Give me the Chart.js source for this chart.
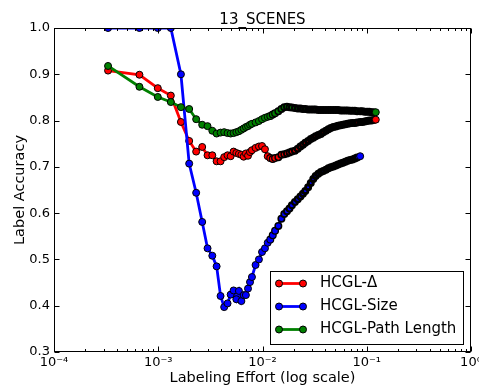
<!DOCTYPE html>
<html>
<head>
<meta charset="utf-8">
<script src="https://cdn.jsdelivr.net/npm/chart.js@4.4.1/dist/chart.umd.min.js"></script>
<style>
  html, body { margin: 0; padding: 0; background: #fff; }
</style>
</head>
<body>
<canvas id="accChart" width="479" height="389"></canvas>
<script>
// labeling effort (fraction of labeled items), shared by all three runs
const effort = [
  0.00033, 0.00066, 0.00099, 0.00132, 0.00165, 0.00198, 0.00231, 0.00264, 0.00297, 0.0033,
  0.00363, 0.00396, 0.00429, 0.00462, 0.00495, 0.00528, 0.00561, 0.00594, 0.00627, 0.0066,
  0.00693, 0.00726, 0.00759, 0.00792, 0.00858, 0.00924, 0.0099, 0.01056, 0.01122, 0.01188,
  0.01254, 0.0132, 0.01419, 0.01518, 0.01617, 0.01716, 0.01815, 0.01914, 0.02046, 0.02178,
  0.0231, 0.02442, 0.02574, 0.02739, 0.02904, 0.03069, 0.03234, 0.03432, 0.0363, 0.03828,
  0.04059, 0.0429, 0.04521, 0.04785, 0.05049, 0.05313, 0.0561, 0.05907, 0.06237, 0.06567,
  0.0693, 0.07293, 0.07689, 0.08085, 0.08646, 0.09075, 0.0957, 0.10065, 0.1056, 0.11088,
  0.11649, 0.1221
];

const deltaAcc = [
  0.908, 0.899, 0.870, 0.854, 0.797, 0.756, 0.733, 0.743, 0.725, 0.725,
  0.712, 0.712, 0.721, 0.725, 0.723, 0.733, 0.730, 0.728, 0.726, 0.722,
  0.729, 0.724, 0.732, 0.736, 0.741, 0.744, 0.745, 0.738, 0.723, 0.719,
  0.717, 0.719, 0.721, 0.726, 0.727, 0.729, 0.731, 0.733, 0.735, 0.739,
  0.744, 0.748, 0.752, 0.756, 0.760, 0.763, 0.766, 0.769, 0.771, 0.775,
  0.778, 0.781, 0.784, 0.786, 0.787, 0.789, 0.790, 0.791, 0.792, 0.793,
  0.794, 0.795, 0.795, 0.796, 0.797, 0.797, 0.798, 0.799, 0.800, 0.800,
  0.801, 0.802
];

// the size run stops earlier (last point near 0.086)
const sizeAcc = [
  1.0, 1.0, 1.0, 1.0, 0.900, 0.707, 0.644, 0.581, 0.524, 0.508,
  0.485, 0.421, 0.397, 0.405, 0.424, 0.433, 0.414, 0.432, 0.410, 0.423,
  0.423, 0.437, 0.451, 0.462, 0.488, 0.500, 0.516, 0.524, 0.536, 0.543,
  0.552, 0.562, 0.572, 0.588, 0.598, 0.604, 0.610, 0.617, 0.624, 0.630,
  0.636, 0.642, 0.648, 0.656, 0.665, 0.674, 0.680, 0.685, 0.689, 0.691,
  0.694, 0.697, 0.699, 0.701, 0.703, 0.705, 0.707, 0.709, 0.711, 0.713,
  0.715, 0.716, 0.718, 0.720, 0.723
];

const pathAcc = [
  0.918, 0.873, 0.851, 0.840, 0.829, 0.825, 0.803, 0.791, 0.788, 0.778,
  0.772, 0.774, 0.775, 0.773, 0.772, 0.773, 0.775, 0.777, 0.780, 0.783,
  0.786, 0.788, 0.791, 0.793, 0.796, 0.799, 0.803, 0.806, 0.808, 0.810,
  0.813, 0.816, 0.820, 0.825, 0.829, 0.830, 0.829, 0.828, 0.827, 0.826,
  0.826, 0.825, 0.825, 0.824, 0.824, 0.824, 0.824, 0.823, 0.823, 0.823,
  0.823, 0.823, 0.823, 0.823, 0.823, 0.823, 0.822, 0.822, 0.822, 0.822,
  0.821, 0.821, 0.821, 0.820, 0.820, 0.820, 0.819, 0.819, 0.819, 0.818,
  0.818, 0.818
];

const seriesNames = ["HCGL-\u0394", "HCGL-Size", "HCGL-Path Length"];
const xTicks = [1e-4, 1e-3, 1e-2, 1e-1, 1];
const xTickLabels = ["10\u207B\u2074", "10\u207B\u00B3", "10\u207B\u00B2", "10\u207B\u00B9", "10\u2070"];
const yTicks = [0.3, 0.4, 0.5, 0.6, 0.7, 0.8, 0.9, 1.0];

const FONT = "'DejaVu Sans', sans-serif";

// the original run has hundreds of overlapping markers past ~1e-2, so the
// black marker edges take over there; thicker edges give the same dark band
function crowding(i, n) {
  if (i === n - 1) return 0;
  const lx = Math.log10(effort[i]);
  return Math.min(1, Math.max(0, (lx + 1.95) / 0.4));
}

function series(label, ys, color, order) {
  const n = ys.length;
  return {
    label: label,
    data: ys.map((y, i) => ({ x: effort[i], y: y })),
    borderColor: color,
    backgroundColor: color,
    borderWidth: 2.8,
    pointRadius: ys.map((y, i) => 3.5 - 1.0 * crowding(i, n)),
    pointBorderWidth: ys.map((y, i) => 1 + 2.0 * crowding(i, n)),
    pointBorderColor: "#000",
    pointBackgroundColor: color,
    tension: 0,
    clip: 0,
    order: order
  };
}

// ===== frame, inward ticks, title and legend (matplotlib look) =====
const axesDecor = {
  id: "axesDecor",
  afterDatasetsDraw(chart) {
    const { ctx, chartArea: a, scales } = chart;
    const L = a.left + 0.5, R = a.right - 0.5, T = a.top + 0.5, B = a.bottom - 0.5;
    ctx.save();
    ctx.strokeStyle = "#000";
    ctx.lineWidth = 1;

    // x ticks, majors and log minors, on bottom and top
    ctx.beginPath();
    for (let e = -4; e <= 0; e++) {
      for (let m = 1; m <= 9; m++) {
        const v = m * Math.pow(10, e);
        if (v > 1.0000001) break;
        const px = Math.round(scales.x.getPixelForValue(v)) + 0.5;
        const len = m === 1 ? 5 : 2.5;
        ctx.moveTo(px, B); ctx.lineTo(px, B - len);
        ctx.moveTo(px, T); ctx.lineTo(px, T + len);
      }
    }
    // y ticks on left and right
    yTicks.forEach(v => {
      const py = Math.round(scales.y.getPixelForValue(v)) + 0.5;
      ctx.moveTo(L, py); ctx.lineTo(L + 5, py);
      ctx.moveTo(R, py); ctx.lineTo(R - 5, py);
    });
    ctx.stroke();
    ctx.strokeRect(L, T, R - L, B - T);

    // title over the axes
    ctx.fillStyle = "#000";
    ctx.font = "15px " + FONT;
    ctx.textAlign = "center";
    ctx.textBaseline = "alphabetic";
    ctx.fillText("13_SCENES", (a.left + a.right) / 2, 24);

    // legend, lower right inside the axes
    const w = 193, h = 73;
    const lx = Math.round(a.right - 8 - w) + 0.5, ly = Math.round(a.bottom - 8 - h) + 0.5;
    ctx.fillStyle = "#fff";
    ctx.fillRect(lx, ly, w, h);
    ctx.strokeRect(lx, ly, w, h);
    chart.data.datasets.forEach((ds, i) => {
      const y = ly + 12 + i * 23;
      ctx.strokeStyle = ds.borderColor;
      ctx.lineWidth = ds.borderWidth;
      ctx.beginPath();
      ctx.moveTo(lx + 8.5, y); ctx.lineTo(lx + 32.5, y);
      ctx.stroke();
      [lx + 8.5, lx + 32.5].forEach(cx => {
        ctx.beginPath();
        ctx.arc(cx, y, 3.5, 0, Math.PI * 2);
        ctx.fillStyle = ds.pointBackgroundColor;
        ctx.fill();
        ctx.lineWidth = 1;
        ctx.strokeStyle = "#000";
        ctx.stroke();
      });
      ctx.fillStyle = "#000";
      ctx.font = "15px " + FONT;
      ctx.textAlign = "left";
      ctx.textBaseline = "middle";
      ctx.fillText(ds.label, lx + 49.5, y);
    });
    ctx.restore();
  }
};

new Chart(document.getElementById("accChart"), {
  type: "line",
  data: {
    datasets: [
      series(seriesNames[0], deltaAcc, "#ff0000", 3),
      series(seriesNames[1], sizeAcc, "#0000ff", 2),
      series(seriesNames[2], pathAcc, "#008000", 1)
    ]
  },
  options: {
    responsive: false,
    devicePixelRatio: 1,
    animation: false,
    events: [],
    layout: { padding: { top: 28, right: 8, bottom: 0, left: 0 } },
    plugins: {
      legend: { display: false },
      title: { display: false },
      tooltip: { enabled: false }
    },
    scales: {
      x: {
        type: "logarithmic",
        min: 1e-4,
        max: 1,
        afterBuildTicks: s => { s.ticks = xTicks.map(v => ({ value: v })); },
        afterFit: s => { s.height = 37; s.paddingLeft = 0; s.paddingRight = 0; },
        grid: { display: false, drawTicks: false },
        border: { display: false },
        ticks: {
          color: "#000",
          font: { family: FONT, size: 13 },
          padding: 3,
          maxRotation: 0,
          autoSkip: false,
          callback: v => xTickLabels[xTicks.indexOf(v)]
        },
        title: {
          display: true,
          text: "Labeling Effort (log scale)",
          color: "#000",
          font: { family: FONT, size: 14.5 },
          padding: { top: 0, bottom: 2 }
        }
      },
      y: {
        min: 0.3,
        max: 1.0,
        afterBuildTicks: s => { s.ticks = yTicks.map(v => ({ value: v })); },
        afterFit: s => { s.width = 54; s.paddingTop = 0; s.paddingBottom = 0; },
        grid: { display: false, drawTicks: false },
        border: { display: false },
        ticks: {
          color: "#000",
          font: { family: FONT, size: 13 },
          padding: 4,
          callback: v => v.toFixed(1)
        },
        title: {
          display: true,
          text: "Label Accuracy",
          color: "#000",
          font: { family: FONT, size: 14.5 },
          padding: { top: 12, bottom: 0 }
        }
      }
    }
  },
  plugins: [axesDecor]
});
</script>
</body>
</html>
